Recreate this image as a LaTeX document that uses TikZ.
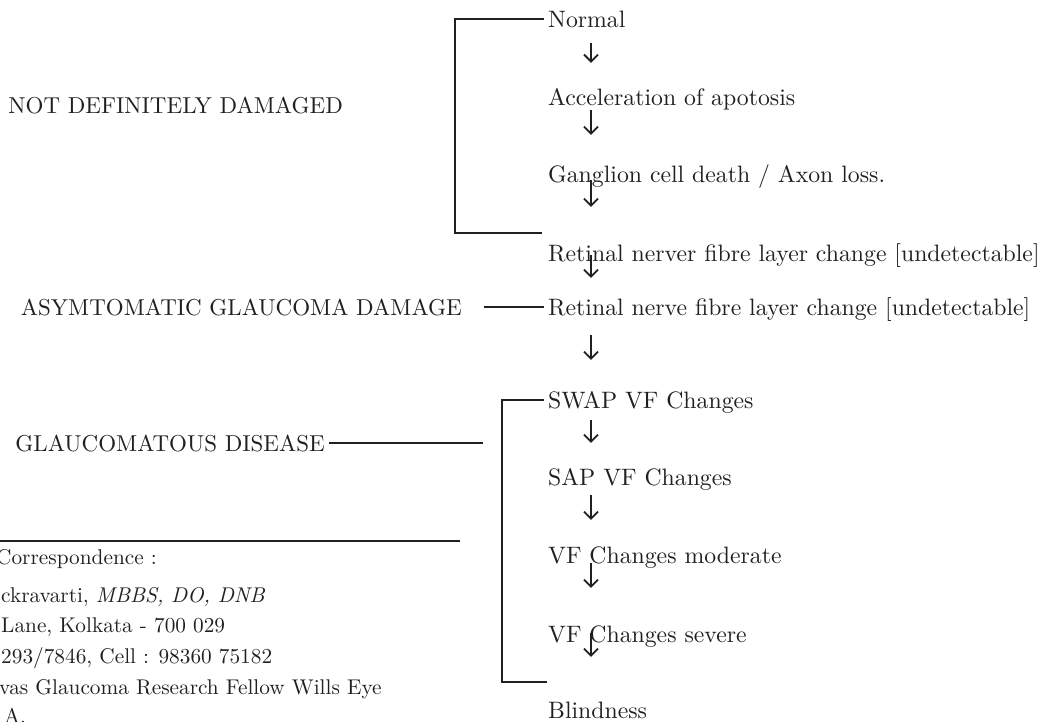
\documentclass[tikz,border=0pt]{standalone}
\usepackage{fontspec}
\usepackage{tikz}
\usetikzlibrary{arrows.meta}
\newfontfamily\tenrm{lmroman10-regular.otf}[ItalicFont=lmroman10-italic.otf]
\definecolor{ink}{RGB}{35,31,32}

\begin{document}
\begin{tikzpicture}[x=1pt, y=-1pt, ink,
  item/.style = {anchor=base west, inner sep=4pt, text height=16pt, text depth=0pt, font=\tenrm\fontsize{23.75}{28}\selectfont},
  lab/.style = {item, anchor=base east, font=\tenrm\fontsize{23}{27}\selectfont},
  note/.style = {anchor=base west, inner sep=0pt, font=\tenrm\fontsize{21.3}{25}\selectfont},
  brk/.style = {line width=2.3pt},
  arr/.style = {line width=1.8pt, -{Straight Barb[length=7pt,width=14pt]}}]
\useasboundingbox (0,0) rectangle (1056,721);
\clip (0,0) rectangle (1056,721);
% stages
\node[item](n1) at (544,27) {Normal}; \node[item](n2) at (544,105) {Acceleration of apotosis}; \node[item](n3) at (544,182) {Ganglion cell death / Axon loss.};
\node[item](n4) at (544,261) {Retinal nerver fibre layer change [undetectable]}; \node[item](n5) at (544,315) {Retinal nerve fibre layer change [undetectable]};
\node[item](n6) at (544,408) {SWAP VF Changes}; \node[item](n7) at (544,485) {SAP VF Changes}; \node[item](n8) at (544,563) {VF Changes moderate};
\node[item](n9) at (544,642) {VF Changes severe}; \node[item](n10) at (544,718) {Blindness};
% groups
\node[lab](l1) at (347,113) {NOT DEFINITELY DAMAGED}; \node[lab](l2) at (466,315) {ASYMTOMATIC GLAUCOMA DAMAGE}; \node[lab](l3) at (329,451) {GLAUCOMATOUS DISEASE};
\coordinate (ax) at (591,0); \coordinate (b1) at (542,233); \coordinate (b2) at (547,682); \coordinate (g1) at (483,443);
\foreach \a/\b/\s/\e in {n1/n2/12/22, n2/n3/1/27, n3/n4/-6/34, n4/n5/-10/17, n5/n6/16/28, n6/n7/8/22, n7/n8/6/23, n8/n9/-4/34, n9/n10/-13/41}
  \draw[arr, shorten <=\s pt, shorten >=\e pt] (\a.south -| ax) -- (\b.north -| ax);
\draw[brk] (n1.west) -| (455,233) -- (b1);
\draw[brk] (n6.west) -| (502,682) -- (b2);
\draw[brk, shorten <=18pt] (l2.east) -- (n5.west);
\draw[brk] (l3.east) -- (g1);
% footnote
\draw[line width=1.3pt] (-2,541) -- (460,541);
\node[note](c1) at (-4,564) {Correspondence :}; \node[note](c2) at (1,602) {ckravarti, \textit{MBBS, DO, DNB}}; \node[note](c3) at (1,632) {Lane, Kolkata - 700 029};
\node[note](c4) at (1,663) {293/7846, Cell : 98360 75182}; \node[note](c5) at (-1,694) {vas Glaucoma Research Fellow Wills Eye}; \node[note](c6) at (4,723) {A.};
\end{tikzpicture}
\end{document}
